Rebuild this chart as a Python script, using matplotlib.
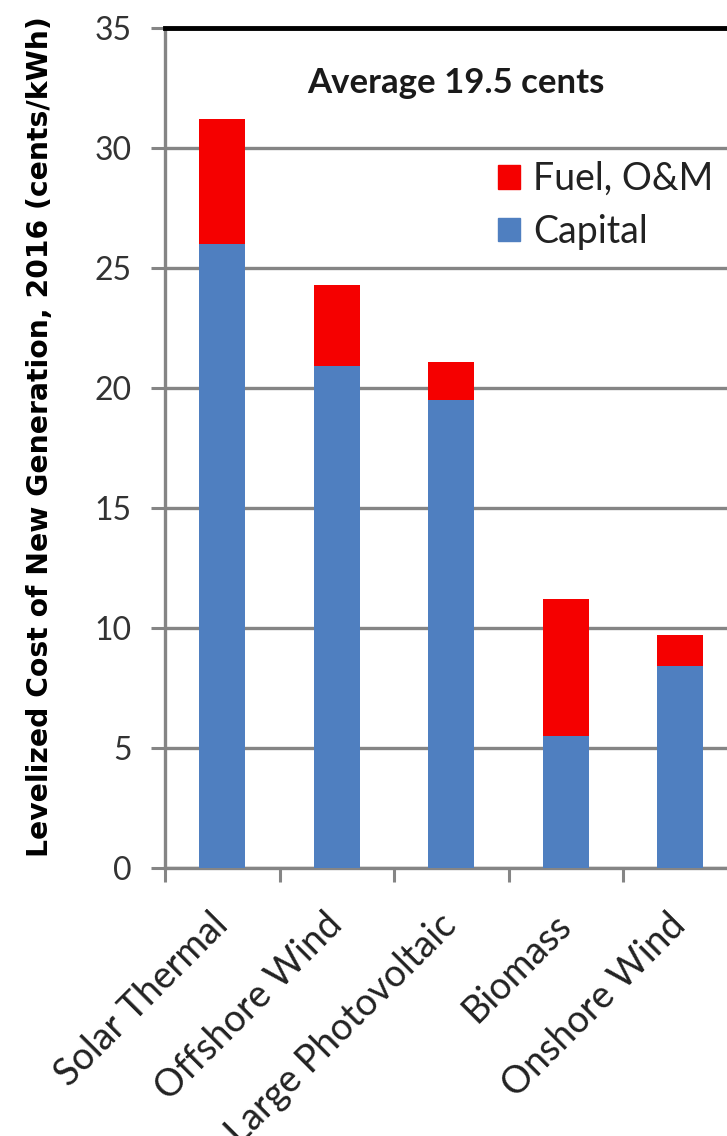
import matplotlib
matplotlib.use("Agg")
import matplotlib.pyplot as plt
from matplotlib.patches import Patch
import numpy as np

# Levelized cost of new generation entering service in 2016 (cents/kWh)
categories = ["Solar Thermal", "Offshore Wind", "Large Photovoltaic", "Biomass", "Onshore Wind"]
capital = [26.0, 20.9, 19.5, 5.5, 8.4]
fuel_om = [5.2, 3.4, 1.6, 5.7, 1.3]
y_ticks = [0, 5, 10, 15, 20, 25, 30, 35]
average_note = "Average 19.5 cents"
y_title = "Levelized Cost of New Generation, 2016 (cents/kWh)"

BLUE = "#4F7FC0"
RED = "#F50000"
GRID = "#858585"
SANS = ["Lato", "DejaVu Sans"]

W, H = 727, 1136
fig = plt.figure(figsize=(W / 100, H / 100), dpi=100)
left, right = 165 / W, (165 + 5 * 114.5) / W
bottom, top = 1 - 868 / H, 1 - 28 / H
ax = fig.add_axes([left, bottom, right - left, top - bottom])

x = np.arange(len(categories))
ax.bar(x, capital, width=0.4, color=BLUE, label="Capital", zorder=3)
ax.bar(x, fuel_om, width=0.4, bottom=capital, color=RED, label="Fuel, O&M", zorder=3)

ax.set_xlim(-0.5, len(categories) - 0.5)
ax.set_ylim(0, 35)
ax.set_yticks(y_ticks)
ax.yaxis.grid(True, color=GRID, linewidth=2.4, zorder=0)
ax.set_axisbelow(True)

ax.set_yticklabels([str(v) for v in y_ticks], fontsize=23, color="#333333", family=SANS)
ax.tick_params(axis="y", length=10, width=2.2, color=GRID, pad=14)

# category labels at bar centres, tick marks between categories
ax.set_xticks(x)
ax.set_xticklabels(categories, rotation=45, ha="right", va="center",
                   rotation_mode="anchor", fontsize=27, color="#222222", family=SANS)
ax.tick_params(axis="x", which="major", length=0, pad=37)
ax.set_xticks(np.arange(len(categories)) - 0.5, minor=True)
ax.tick_params(axis="x", which="minor", length=10, width=2.2, color=GRID)

for side in ["left", "bottom"]:
    ax.spines[side].set_color(GRID)
    ax.spines[side].set_linewidth(2.4)
ax.spines["right"].set_visible(False)
ax.spines["top"].set_color("black")
ax.spines["top"].set_linewidth(3.5)

# vertical axis title
fig.text(40 / W, 1 - 437 / H, y_title, rotation=90, ha="center", va="center",
         family=["DejaVu Sans"], fontweight="bold", fontsize=20.3, color="black")

ax.text(2.04, 32.7, average_note, ha="center", va="center", fontsize=25,
        fontweight="bold", family=SANS, color="#1a1a1a")

handles = [Patch(color=RED, label="Fuel, O&M"), Patch(color=BLUE, label="Capital")]
leg = fig.legend(handles=handles, loc="upper left",
                 bbox_to_anchor=(498 / W, 1 - 161 / H), bbox_transform=fig.transFigure,
                 frameon=False, borderpad=0, borderaxespad=0,
                 handlelength=0.59, handleheight=0.59, handletextpad=0.35,
                 labelspacing=0.45, prop={"family": SANS, "size": 27})
for t in leg.get_texts():
    t.set_color("#222222")

fig.savefig("out.png", dpi=100)
